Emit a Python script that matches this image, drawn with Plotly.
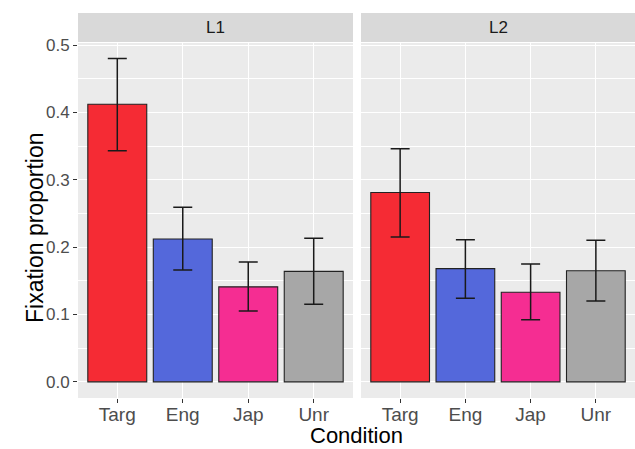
import plotly.graph_objects as go
from plotly.subplots import make_subplots

conditions = ["Targ", "Eng", "Jap", "Unr"]
panels = ["L1", "L2"]
colors = ["#F52B34", "#5468DB", "#F52D92", "#A7A7A7"]

means = {
    "L1": [0.412, 0.212, 0.141, 0.164],
    "L2": [0.281, 0.168, 0.133, 0.165],
}
upper = {
    "L1": [0.480, 0.259, 0.178, 0.213],
    "L2": [0.346, 0.211, 0.175, 0.210],
}
lower = {
    "L1": [0.343, 0.166, 0.105, 0.115],
    "L2": [0.215, 0.124, 0.092, 0.120],
}
y_ticks = [0.0, 0.1, 0.2, 0.3, 0.4, 0.5]
y_tick_text = ["0.0", "0.1", "0.2", "0.3", "0.4", "0.5"]

W, H = 635, 449
ml, mr, mt, mb = 78, 0, 43, 51
pw = W - ml - mr
ph = H - mt - mb

fig = make_subplots(rows=1, cols=2, shared_yaxes=True, horizontal_spacing=0.0)

for i, p in enumerate(panels):
    m = means[p]
    fig.add_trace(go.Bar(
        x=conditions, y=m,
        marker=dict(color=colors, line=dict(color="#222222", width=1.1)),
        width=0.9,
        error_y=dict(type="data", symmetric=False,
                     array=[u - v for u, v in zip(upper[p], m)],
                     arrayminus=[v - l for v, l in zip(m, lower[p])],
                     color="#1A1A1A", thickness=1.5, width=9.5),
        showlegend=False,
    ), row=1, col=i + 1)

left_dom = [0, 275 / pw]
right_dom = [(361 - ml) / pw, 1]

xaxis_common = dict(
    showgrid=True, gridcolor="white", gridwidth=1.1,
    ticks="outside", ticklen=4, tickcolor="#333333", tickwidth=1,
    tickfont=dict(family="Liberation Sans, Arial", size=19, color="#4D4D4D"),
    ticklabelstandoff=-5,
    zeroline=False, showline=False, automargin=False,
)

fig.update_layout(
    width=W, height=H,
    margin=dict(l=ml, r=mr, t=mt, b=mb, autoexpand=False),
    paper_bgcolor="white", plot_bgcolor="#EBEBEB",
    bargap=0.1,
    font=dict(family="Liberation Sans, Arial", color="black"),
    xaxis=dict(domain=left_dom, range=[-0.6, 3.6], **xaxis_common),
    xaxis2=dict(domain=right_dom, range=[-0.6, 3.6], **xaxis_common),
    yaxis=dict(range=[-0.024, 0.503], tickvals=y_ticks, ticktext=y_tick_text,
               showgrid=True, gridcolor="white", gridwidth=1.1,
               ticks="outside", ticklen=4, tickcolor="#333333", tickwidth=1,
               tickfont=dict(family="Liberation Sans, Arial", size=17, color="#4D4D4D"),
               minor=dict(dtick=0.05, tick0=0, showgrid=True, gridcolor="white", gridwidth=0.55),
               zeroline=False, showline=False, automargin=False),
    yaxis2=dict(range=[-0.024, 0.503], showticklabels=False, ticks="",
                showgrid=True, gridcolor="white", gridwidth=1.1,
                minor=dict(dtick=0.05, tick0=0, showgrid=True, gridcolor="white", gridwidth=0.55),
                zeroline=False, matches="y", automargin=False),
)

# facet strips
strip_y0 = 1 + 1 / ph
strip_y1 = 1 + 30 / ph
for dom, p in zip([left_dom, right_dom], panels):
    fig.add_shape(type="rect", xref="paper", yref="paper",
                  x0=dom[0], x1=dom[1], y0=strip_y0, y1=strip_y1,
                  fillcolor="#D9D9D9", line=dict(width=0), layer="below")
    fig.add_annotation(text=p, xref="paper", yref="paper",
                       x=(dom[0] + dom[1]) / 2, y=(strip_y0 + strip_y1) / 2,
                       showarrow=False, font=dict(size=17, color="#1A1A1A"),
                       xanchor="center", yanchor="middle")

# axis titles
fig.add_annotation(text="Condition", xref="paper", yref="paper",
                   x=(left_dom[0] + right_dom[1]) / 2, y=-(435 - (mt + ph)) / ph,
                   showarrow=False, font=dict(size=22, color="black"), borderpad=0,
                   xanchor="center", yanchor="middle")
fig.add_annotation(text="Fixation proportion", xref="paper", yref="paper",
                   x=-(ml - 35) / pw, y=0.5 - (228 - (mt + ph / 2)) / ph,
                   textangle=-90, showarrow=False, font=dict(size=23, color="black"),
                   xanchor="center", yanchor="middle")

fig.write_html("out.html", config={"displayModeBar": False},
               post_script="document.body.style.margin='0';document.body.style.padding='0';")
